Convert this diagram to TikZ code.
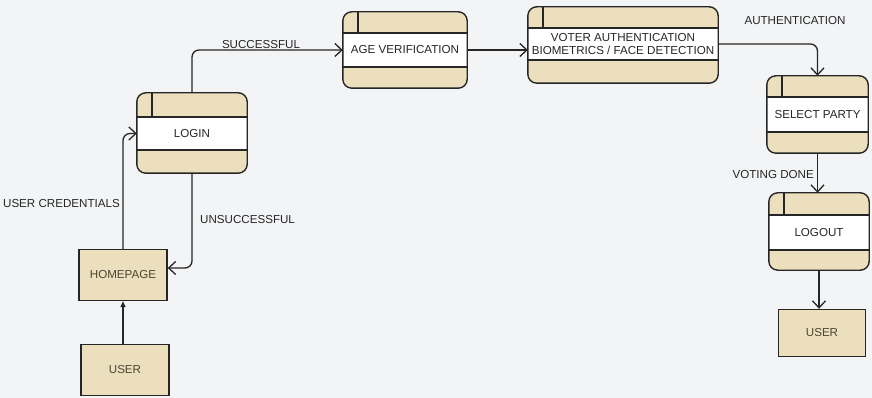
\documentclass[tikz,border=0pt]{standalone}
\usepackage{fontspec}
\setmainfont{Liberation Sans}
\usetikzlibrary{arrows.meta,calc}
\definecolor{bg}{HTML}{F3F4F6}
\definecolor{beige}{HTML}{EBDFBD}
\definecolor{ink}{HTML}{262626}
\definecolor{btxt}{HTML}{4F4532}
\tikzset{
  lbl/.style={font=\fontsize{11.6}{13}\selectfont, text=ink, inner sep=0pt},
  blbl/.style={font=\fontsize{11.6}{13}\selectfont, text=btxt, inner sep=0pt},
  procshape/.style={inner sep=0pt, rounded corners=9pt, fill=beige},
  entity/.style={draw=ink, line width=1.4pt, fill=beige, inner sep=0pt},
  conn/.style={draw=ink, line width=1.3pt, rounded corners=7pt, -{Straight Barb[length=7pt,width=13pt]}},
  fconn/.style={draw=ink, line width=1.3pt, -{Triangle[length=6pt,width=5pt]}},
}
% #1 name, #2 x1, #3 top, #4 x2, #5 bottom, #6 band top, #7 band bottom, #8 text
\newcommand\procbox[8]{%
  \node[procshape, minimum width={(#4-#2)*1pt}, minimum height={(#5-#3)*1pt}] (#1) at ({(#2+#4)/2},{(#3+#5)/2}) {};
  \fill[white] (#2,#6) rectangle (#4,#7);
  \draw[ink, line width=1.3pt] (#2,#6) -- (#4,#6) (#2,#7) -- (#4,#7) ({#2+15},#3) -- ({#2+15},#6);
  \draw[ink, line width=1.4pt, rounded corners=9pt] (#1.north west) rectangle (#1.south east);
  \node[lbl, align=center] (#1-t) at ({(#2+#4)/2},{(#6+#7)/2}) {#8};
}
\begin{document}
\begin{tikzpicture}[x=1pt,y=-1pt]
\useasboundingbox[fill=bg] (0,0) rectangle (872,398);

\procbox{login}{137}{93}{247}{173}{117}{150}{LOGIN}
\procbox{age}{343}{12}{467}{88}{33}{67}{AGE VERIFICATION}
\procbox{voter}{528}{7}{718}{83}{28}{60}{\baselineskip=13pt VOTER AUTHENTICATION\\BIOMETRICS / FACE DETECTION}
\procbox{select}{767}{76}{868}{153}{97}{132}{SELECT PARTY}
\procbox{logout}{769}{193}{869}{270}{215}{250}{LOGOUT}

\node[entity, minimum width=88pt, minimum height=51pt] (home) at (123,275) {};
\node[blbl] (home-t) at (home) {HOMEPAGE};
\node[entity, minimum width=88pt, minimum height=51pt] (userl) at (125,370) {};
\node[blbl] (userl-t) at (userl) {USER};
\node[entity, minimum width=87pt, minimum height=47pt] (userr) at (822,333) {};
\node[blbl] (userr-t) at (userr) {USER};

% connectors
\draw[fconn] (userl.north -| home.north) -- (home.south);
\draw[conn] (home.north) |- (login.west |- login-t);
\draw[conn] (login.south) |- ([yshift=7pt]home.east);
\draw[conn] (login.north) |- (age.west |- age-t);
\draw[conn] (age.east |- age-t) -- (voter.west |- age-t);
\draw[conn] (voter.east |- voter-t) -| (select.north);
\draw[conn] (select.south) -- (select.south |- logout.north);
\draw[conn] (logout.south) -- (logout.south |- userr.north);

% labels
\node[lbl, anchor=east] (l1) at (120,204) {USER CREDENTIALS};
\node[lbl, anchor=west] (l2) at (200,220) {UNSUCCESSFUL};
\node[lbl] (l3) at (261,45) {SUCCESSFUL};
\node[lbl] (l4) at (795,21) {AUTHENTICATION};
\node[lbl, anchor=east] (l5) at (814,175) {VOTING DONE};
\end{tikzpicture}
\end{document}
